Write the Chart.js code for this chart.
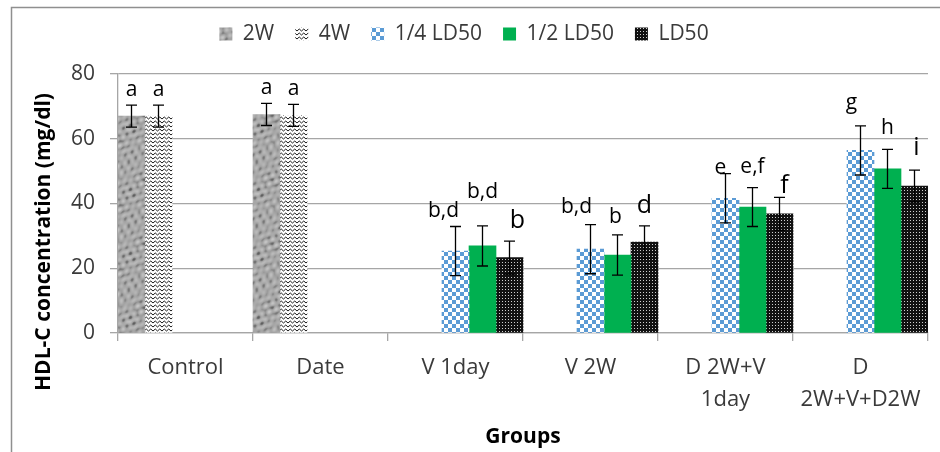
<!DOCTYPE html>
<html>
<head>
<meta charset="utf-8">
<title>HDL-C concentration</title>
<script src="https://cdn.jsdelivr.net/npm/chart.js@4.4.1/dist/chart.umd.min.js"></script>
<style>
  html, body { margin: 0; padding: 0; background: #fff; }
  canvas { display: block; }
</style>
</head>
<body>
<canvas id="c" width="940" height="452"></canvas>
<script>
// ---- data ----
const groups = ['Control', 'Date', 'V 1day', 'V 2W', ['D 2W+V', '1day'], ['D', '2W+V+D2W']];
const seriesNames = ['2W', '4W', '1/4 LD50', '1/2 LD50', 'LD50'];
const yTickValues = [0, 20, 40, 60, 80];

// mean HDL-C (mg/dl) per group
const mean2W      = [67.0, 67.5, null, null, null, null];
const mean4W      = [67.0, 67.2, null, null, null, null];
const meanQuarter = [null, null, 25.3, 25.9, 41.6, 56.4];
const meanHalf    = [null, null, 26.9, 24.1, 38.9, 50.7];
const meanFull    = [null, null, 23.3, 28.1, 36.8, 45.4];

// standard deviations
const sd2W      = [3.4, 3.4, null, null, null, null];
const sd4W      = [3.4, 3.4, null, null, null, null];
const sdQuarter = [null, null, 7.6, 7.6, 7.6, 7.6];
const sdHalf    = [null, null, 6.2, 6.2, 6.0, 6.0];
const sdFull    = [null, null, 5.1, 5.0, 5.1, 4.9];

// significance letters
const sig2W      = ['a', 'a', '', '', '', ''];
const sig4W      = ['a', 'a', '', '', '', ''];
const sigQuarter = ['', '', 'b,d', 'b,d', 'e', 'g'];
const sigHalf    = ['', '', 'b,d', 'b', 'e,f', 'h'];
const sigFull    = ['', '', 'b', 'd', 'f', 'i'];

const means = [mean2W, mean4W, meanQuarter, meanHalf, meanFull];
const sds = [sd2W, sd4W, sdQuarter, sdHalf, sdFull];
const sigs = [sig2W, sig4W, sigQuarter, sigHalf, sigFull];

// ---- label placement tweaks (series:group) ----
const letterNudge = {
  '2:2': { dx: -12, lift: 0 },
  '3:2': { dx: 0, lift: 19 },
  '4:2': { dx: 8, lift: 4 },
  '2:3': { dx: -14, lift: 3 },
  '3:3': { dx: -2, lift: 3 },
  '4:3': { dx: 0, lift: 4 },
  '2:4': { dx: -5, lift: -9 },
  '3:4': { dx: 0, lift: 6 },
  '4:4': { dx: 5, lift: -5 },
  '2:5': { dx: -9, lift: 8 },
  '3:5': { dx: 0, lift: 6 },
  '4:5': { dx: 2, lift: 6 }
};

const FONT = "'Open Sans', 'DejaVu Sans', sans-serif";
Chart.defaults.font.family = FONT;
Chart.defaults.color = '#3a3a3a';

// ---- fill textures ----
const mainCtx = document.getElementById('c').getContext('2d');
function tile(w, h, paint) {
  const c = document.createElement('canvas');
  c.width = w; c.height = h;
  paint(c.getContext('2d'), w, h);
  return mainCtx.createPattern(c, 'repeat');
}

// mottled grey stone: several periodic waves in unrelated directions
const stone = tile(64, 64, (g, w, h) => {
  const img = g.createImageData(w, h);
  const T = 2 * Math.PI / 64;
  const waves = [[5, 7, 0.0], [-8, 3, 1.3], [6, -5, 2.1], [2, 9, 0.7], [-3, -10, 2.9], [11, 4, 4.0]];
  for (let y = 0; y < h; y++) {
    for (let x = 0; x < w; x++) {
      let n = 0;
      for (const [a, b, p] of waves) n += Math.sin(T * (a * x + b * y) + p);
      n /= 2.4;
      let v = 168 + 14 * n - 26 * Math.max(0, -n - 0.55);
      v = Math.max(95, Math.min(212, v));
      const k = (y * w + x) * 4;
      img.data[k] = img.data[k + 1] = img.data[k + 2] = v;
      img.data[k + 3] = 255;
    }
  }
  g.putImageData(img, 0, 0);
});

// black zigzag lines on white
const zigzag = tile(9, 4, g => {
  g.fillStyle = '#fff'; g.fillRect(0, 0, 9, 4);
  g.strokeStyle = '#000'; g.lineWidth = 0.9;
  g.beginPath();
  g.moveTo(0, 3); g.lineTo(2.25, 1); g.lineTo(4.5, 3); g.lineTo(6.75, 1); g.lineTo(9, 3);
  g.stroke();
});

// blue checkerboard
const checker = tile(8, 8, g => {
  g.fillStyle = '#fff'; g.fillRect(0, 0, 8, 8);
  g.fillStyle = '#5b9bd5';
  g.fillRect(0, 0, 4, 4); g.fillRect(4, 4, 4, 4);
});

// dense dotted black
const dotted = tile(3, 3, g => {
  g.fillStyle = '#111'; g.fillRect(0, 0, 3, 3);
  g.fillStyle = '#cfcfcf'; g.fillRect(1, 1, 1, 1);
});

const fills = [stone, zigzag, checker, '#00b050', dotted];

// ---- plugins ----
const frame = {
  id: 'frame',
  beforeDraw(chart) {
    const { ctx, width, height } = chart;
    ctx.save();
    ctx.fillStyle = '#fff';
    ctx.fillRect(0, 0, width, height);
    ctx.strokeStyle = '#8f8f8f';
    ctx.lineWidth = 1.5;
    ctx.strokeRect(11.5, 7.5, width, height);
    ctx.restore();
  }
};

const legendLift = {
  id: 'legendLift',
  afterLayout(chart) {
    const lg = chart.legend;
    if (lg) { lg.top -= 19.5; lg.bottom -= 19.5; }
  }
};

const yTitle = {
  id: 'yTitle',
  afterDraw(chart) {
    const { ctx } = chart;
    ctx.save();
    ctx.translate(44, 242);
    ctx.rotate(-Math.PI / 2);
    ctx.font = 'bold 21px ' + FONT;
    ctx.fillStyle = '#000';
    ctx.textAlign = 'center';
    ctx.textBaseline = 'middle';
    ctx.fillText('HDL-C concentration (mg/dl)', 0, 0);
    ctx.restore();
  }
};

const errorBars = {
  id: 'errorBars',
  afterDatasetsDraw(chart) {
    const { ctx } = chart;
    const y = chart.scales.y;
    ctx.save();
    chart.data.datasets.forEach((ds, i) => {
      const meta = chart.getDatasetMeta(i);
      meta.data.forEach((bar, j) => {
        const m = ds.data[j];
        if (m == null) return;
        const e = sds[i][j];
        const yt = y.getPixelForValue(m + e);
        const yb = y.getPixelForValue(m - e);
        const x = bar.x;
        ctx.strokeStyle = '#000';
        ctx.lineWidth = 1.3;
        ctx.beginPath();
        ctx.moveTo(x, yt); ctx.lineTo(x, yb);
        ctx.moveTo(x - 5.5, yt); ctx.lineTo(x + 5.5, yt);
        ctx.moveTo(x - 5.5, yb); ctx.lineTo(x + 5.5, yb);
        ctx.stroke();

        const txt = sigs[i][j];
        if (!txt) return;
        const n = letterNudge[i + ':' + j] || { dx: 0, lift: 0 };
        ctx.font = (i === 4 ? '25px ' : '21px ') + FONT;
        ctx.fillStyle = '#000';
        ctx.textAlign = 'center';
        ctx.textBaseline = 'alphabetic';
        ctx.fillText(txt, x + n.dx, yt - 9 - n.lift);
      });
    });
    ctx.restore();
  }
};

// ---- chart ----
new Chart(mainCtx, {
  type: 'bar',
  data: {
    labels: groups,
    datasets: seriesNames.map((name, i) => ({
      label: name,
      data: means[i],
      backgroundColor: fills[i],
      borderWidth: 0,
      categoryPercentage: 1,
      barPercentage: 1
    }))
  },
  options: {
    responsive: false,
    animation: false,
    layout: { padding: { top: 22, left: 0, right: 12, bottom: 0 } },
    plugins: {
      legend: {
        position: 'top',
        labels: {
          font: { size: 21 },
          color: '#3a3a3a',
          boxWidth: 13,
          boxHeight: 13,
          padding: 21
        }
      },
      tooltip: { enabled: false }
    },
    scales: {
      x: {
        grid: {
          display: true,
          drawOnChartArea: false,
          drawTicks: true,
          tickLength: 8,
          offset: true,
          color: '#a6a6a6',
          lineWidth: 1.3
        },
        border: { display: true, color: '#a6a6a6', width: 1.3 },
        ticks: {
          font: { size: 22, lineHeight: 1.45 },
          color: '#3a3a3a',
          padding: 11,
          maxRotation: 0,
          autoSkip: false
        },
        title: {
          display: true,
          text: 'Groups',
          font: { size: 21, weight: 'bold' },
          color: '#000',
          padding: { top: 0, bottom: 2 }
        },
        afterFit(scale) { scale.height = 119; }
      },
      y: {
        min: 0,
        max: 80,
        afterBuildTicks(scale) { scale.ticks = yTickValues.map(v => ({ value: v })); },
        grid: {
          color: '#a6a6a6',
          lineWidth: 1.3,
          drawTicks: true,
          tickLength: 8
        },
        border: { display: true, color: '#a6a6a6', width: 1.3 },
        ticks: {
          font: { size: 21 },
          color: '#3a3a3a',
          padding: 15
        },
        afterFit(scale) { scale.width = 118; }
      }
    }
  },
  plugins: [frame, legendLift, errorBars, yTitle]
});
</script>
</body>
</html>
